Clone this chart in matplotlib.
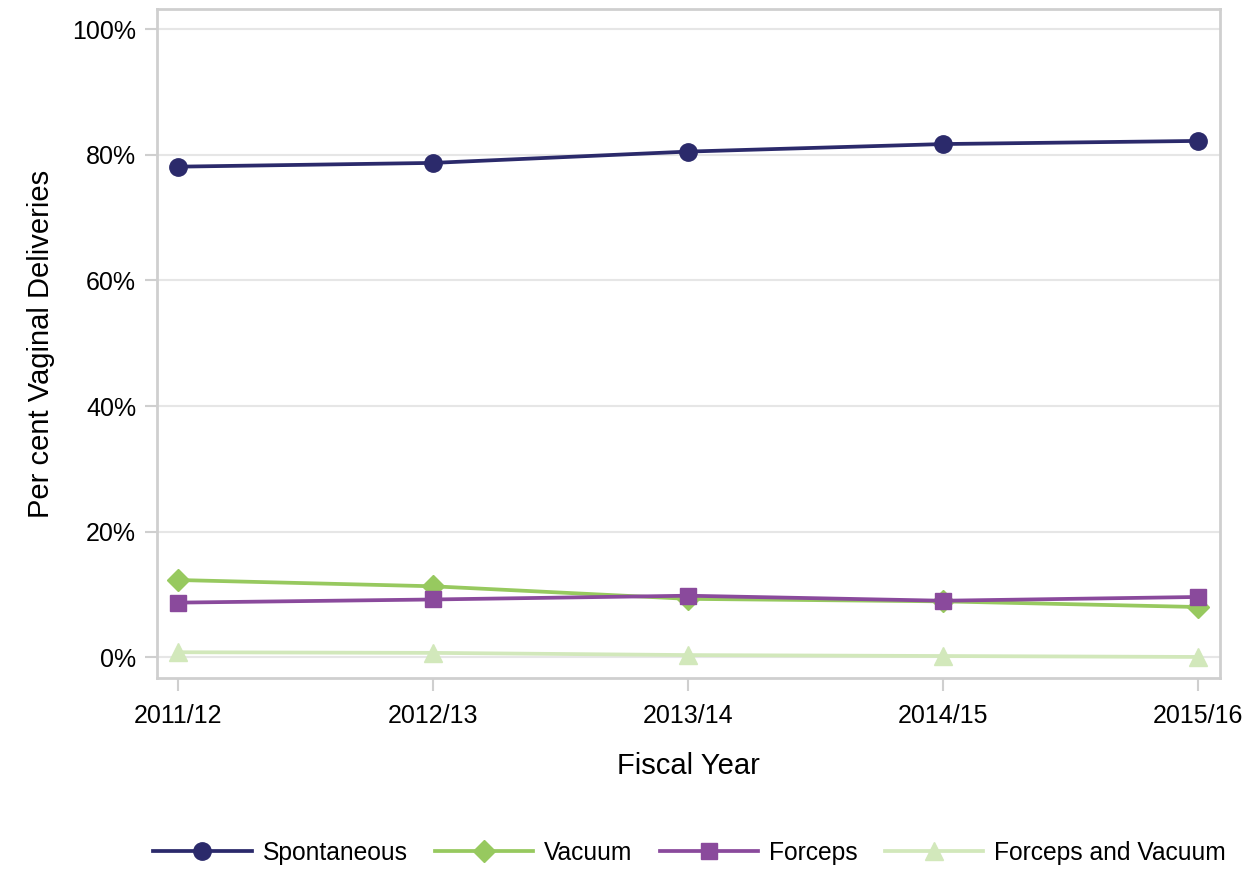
import matplotlib
matplotlib.use("Agg")
import matplotlib.pyplot as plt
from matplotlib.ticker import FuncFormatter

plt.rcParams['font.family'] = ['Liberation Sans', 'DejaVu Sans']

years = ["2011/12", "2012/13", "2013/14", "2014/15", "2015/16"]
spontaneous = [78.1, 78.7, 80.5, 81.7, 82.2]
vacuum = [12.3, 11.3, 9.3, 8.9, 8.0]
forceps = [8.7, 9.2, 9.8, 9.0, 9.6]
forceps_vacuum = [0.8, 0.7, 0.35, 0.2, 0.05]
yticks = [0, 20, 40, 60, 80, 100]

fig = plt.figure(figsize=(12.56, 8.71), dpi=100)
ax = fig.add_axes([157/1256, 1-678/871, (1220-157)/1256, (678-9)/871])

x = list(range(len(years)))
ax.plot(x, spontaneous, color="#2b2a6b", lw=2.7, marker="o", ms=12.5, label="Spontaneous", zorder=5)
ax.plot(x, vacuum, color="#97c95f", lw=2.7, marker="D", ms=11, label="Vacuum", zorder=3)
ax.plot(x, forceps, color="#8a4a9c", lw=2.7, marker="s", ms=11.5, label="Forceps", zorder=4)
ax.plot(x, forceps_vacuum, color="#d2e8bb", lw=2.7, marker="^", ms=12.5, label="Forceps and Vacuum", zorder=2)

ax.set_xlim(-0.082, 4.086)
ax.set_ylim(-3.3, 103.2)
ax.set_xticks(x)
ax.set_xticklabels(years)
ax.set_yticks(yticks)
ax.yaxis.set_major_formatter(FuncFormatter(lambda v, p: f"{v:.0f}%"))
ax.grid(axis='y', color="#e6e6e6", lw=1.5)
ax.set_axisbelow(True)
for s in ax.spines.values():
    s.set_color("#cfcfcf")
    s.set_linewidth(2)
ax.tick_params(axis='both', colors="#cfcfcf", width=1.5, length=9, labelsize=18, labelcolor="black")
ax.tick_params(axis='x', pad=10)
ax.tick_params(axis='y', pad=6)

ax.set_xlabel("Fiscal Year", fontsize=21, labelpad=17)
ax.set_ylabel("Per cent Vaginal Deliveries", fontsize=21, labelpad=12)

leg = fig.legend(loc='center', bbox_to_anchor=(0.549, 1-853/871), ncol=4, frameon=False,
                 fontsize=17.7, handlelength=4.0, columnspacing=1.1, handletextpad=0.45)

fig.savefig("out.png", dpi=100)
